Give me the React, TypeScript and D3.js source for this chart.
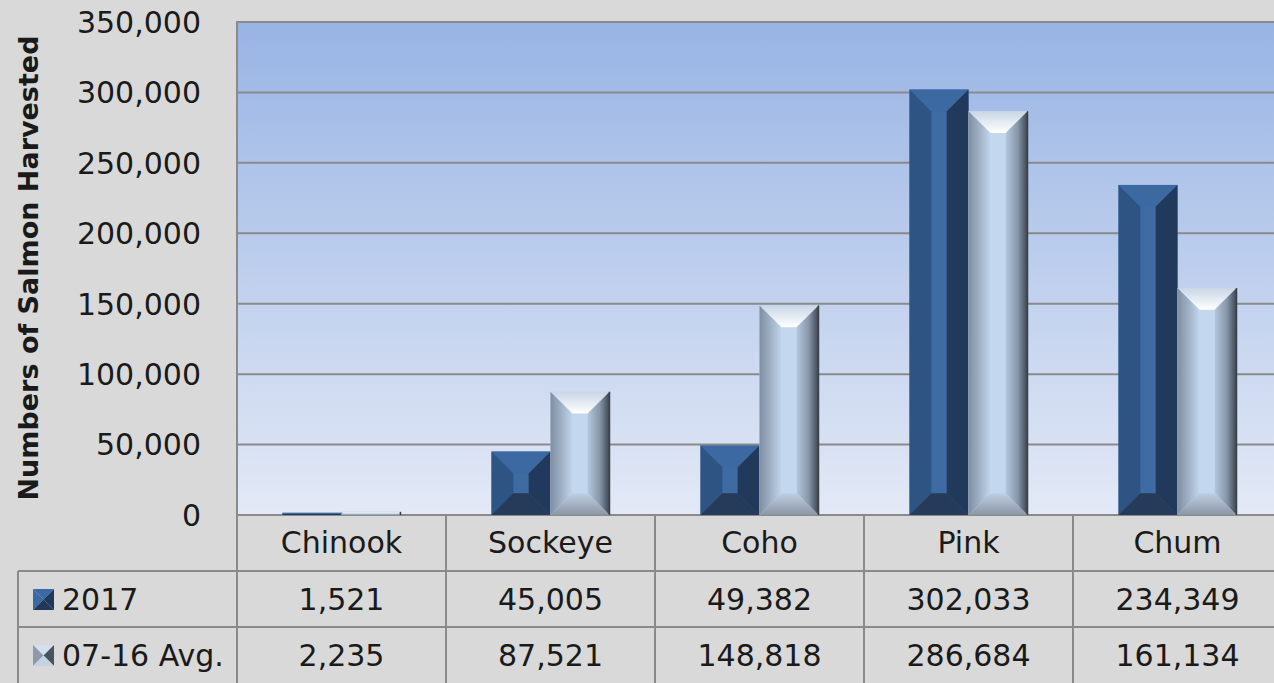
import * as d3 from "d3"

const categories = ["Chinook", "Sockeye", "Coho", "Pink", "Chum"]
const series = ["2017", "07-16 Avg."]
const values2017 = [1521, 45005, 49382, 302033, 234349]
const valuesAvg = [2235, 87521, 148818, 286684, 161134]
const yTicks = [0, 50000, 100000, 150000, 200000, 250000, 300000, 350000]

const W = 1274
const H = 683
const font = "'DejaVu Sans', sans-serif"

function BevelBar({ x, y, w, h, kind }: { x: number; y: number; w: number; h: number; kind: number }) {
  const b = Math.min(22, w * 0.37, h / 2)
  const pts = (p: number[][]) => p.map((d) => d.join(",")).join(" ")
  const top = pts([[x, y], [x + w, y], [x + w - b, y + b], [x + b, y + b]])
  const bottom = pts([[x, y + h], [x + w, y + h], [x + w - b, y + h - b], [x + b, y + h - b]])
  const left = pts([[x, y], [x + b, y + b], [x + b, y + h - b], [x, y + h]])
  const right = pts([[x + w, y], [x + w - b, y + b], [x + w - b, y + h - b], [x + w, y + h]])
  if (kind === 0) {
    return (
      <g>
        <rect x={x} y={y} width={w} height={h} fill="#3e6ba2" />
        <polygon points={top} fill="#3c69a1" />
        <polygon points={left} fill="#2e5484" />
        <polygon points={right} fill="#21395a" />
        <polygon points={bottom} fill="#253b59" />
      </g>
    )
  }
  return (
    <g>
      <rect x={x} y={y} width={w} height={h} fill="#c3d8ef" />
      <polygon points={top} fill="url(#avgTop)" />
      <polygon points={left} fill="url(#avgLeft)" />
      <polygon points={right} fill="url(#avgRight)" />
      <polygon points={bottom} fill="url(#avgBottom)" />
      <line x1={x + w} x2={x + w} y1={y} y2={y + h} stroke="#3a4048" strokeWidth={1.5} />
    </g>
  )
}

function LegendKey({ x, y, s, kind }: { x: number; y: number; s: number; kind: number }) {
  const c = [x + s / 2, y + s / 2]
  const tri = (a: number[], b: number[]) => [a, b, c].map((d) => d.join(",")).join(" ")
  const cols = kind === 0
    ? ["#3b69a5", "#3b69a5", "#20395a", "#20395a"]
    : ["#d2dfee", "#8e9aab", "#4a525e", "#c4d2e3"]
  return (
    <g>
      <polygon points={tri([x, y], [x + s, y])} fill={cols[0]} />
      <polygon points={tri([x, y], [x, y + s])} fill={cols[1]} />
      <polygon points={tri([x + s, y], [x + s, y + s])} fill={cols[2]} />
      <polygon points={tri([x, y + s], [x + s, y + s])} fill={cols[3]} />
    </g>
  )
}

export default function App() {
  const plotLeft = 237
  const plotRight = 1282
  const plotTop = 22
  const plotBottom = 515

  const x0 = d3.scaleBand().domain(categories).range([plotLeft, plotRight])
  const groupW = 118
  const x1 = d3.scaleBand().domain(series).range([0, groupW])
  const y = d3.scaleLinear().domain([0, 350000]).range([plotBottom, plotTop])
  const fmt = d3.format(",")

  const rows = [values2017, valuesAvg]
  const rowTop = [571, 627]
  const rowH = 56

  return (
    <>
      <style>{"body{margin:0}"}</style>
      <svg width={W} height={H} style={{ display: "block", fontFamily: font }}>
        <defs>
          <linearGradient id="plotBg" x1="0" y1="0" x2="0" y2="1">
            <stop offset="0" stopColor="#98b4e4" />
            <stop offset="1" stopColor="#e3e9f6" />
          </linearGradient>
          <linearGradient id="avgTop" x1="0" y1="0" x2="0" y2="1">
            <stop offset="0" stopColor="#c8d6e6" />
            <stop offset="1" stopColor="#ffffff" />
          </linearGradient>
          <linearGradient id="avgBottom" x1="0" y1="0" x2="0" y2="1">
            <stop offset="0" stopColor="#bfcfe2" />
            <stop offset="1" stopColor="#8a96a5" />
          </linearGradient>
          <linearGradient id="avgLeft" x1="0" y1="0" x2="1" y2="0">
            <stop offset="0" stopColor="#7f8ea2" />
            <stop offset="1" stopColor="#c0d4eb" />
          </linearGradient>
          <linearGradient id="avgRight" x1="0" y1="0" x2="1" y2="0">
            <stop offset="0" stopColor="#b3c7de" />
            <stop offset="0.55" stopColor="#8897aa" />
            <stop offset="1" stopColor="#3d4550" />
          </linearGradient>
        </defs>

        <rect width={W} height={H} fill="#d9d9d9" />

        <rect x={plotLeft} y={plotTop} width={plotRight - plotLeft} height={plotBottom - plotTop} fill="url(#plotBg)" />

        {yTicks.map((t) => (
          <g key={t}>
            <line x1={plotLeft} x2={W} y1={y(t)} y2={y(t)} stroke="#8a8a8a" strokeWidth={2} />
            <text x={201} y={y(t)} dy="0.36em" textAnchor="end" fontSize={30} fill="#1a1a1a">
              {fmt(t)}
            </text>
          </g>
        ))}
        <line x1={plotLeft} x2={plotLeft} y1={plotTop - 1} y2={H} stroke="#8a8a8a" strokeWidth={2} />

        <text
          transform="translate(28,268) rotate(-90)"
          textAnchor="middle"
          dy="0.36em"
          fontSize={27}
          fontWeight="bold"
          fill="#1a1a1a"
        >
          Numbers of Salmon Harvested
        </text>

        {categories.map((c, i) => {
          const gx = (x0(c) ?? 0) + (x0.bandwidth() - groupW) / 2
          return (
            <g key={c}>
              {rows.map((vals, k) => (
                <BevelBar
                  key={k}
                  kind={k}
                  x={gx + (x1(series[k]) ?? 0)}
                  y={y(vals[i])}
                  w={x1.bandwidth()}
                  h={plotBottom - y(vals[i])}
                />
              ))}
            </g>
          )
        })}

        {/* data table */}
        {rowTop.map((t) => (
          <line key={t} x1={18} x2={W} y1={t} y2={t} stroke="#8a8a8a" strokeWidth={2} />
        ))}
        <line x1={18} x2={18} y1={rowTop[0]} y2={H} stroke="#8a8a8a" strokeWidth={2} />
        {categories.map((c) => (
          <line key={c} x1={(x0(c) ?? 0) + x0.bandwidth()} x2={(x0(c) ?? 0) + x0.bandwidth()} y1={plotBottom} y2={H} stroke="#8a8a8a" strokeWidth={2} />
        ))}
        {categories.map((c) => (
          <text key={c} x={(x0(c) ?? 0) + x0.bandwidth() / 2} y={plotBottom + rowH / 2 - 1} dy="0.36em" textAnchor="middle" fontSize={30} fill="#1a1a1a">
            {c}
          </text>
        ))}
        {rows.map((vals, k) => (
          <g key={k}>
            <LegendKey x={33} y={rowTop[k] + 18} s={21} kind={k} />
            <text x={62} y={rowTop[k] + rowH / 2} dy="0.36em" fontSize={30} fill="#1a1a1a">
              {series[k]}
            </text>
            {categories.map((c, i) => (
              <text key={c} x={(x0(c) ?? 0) + x0.bandwidth() / 2} y={rowTop[k] + rowH / 2} dy="0.36em" textAnchor="middle" fontSize={30} fill="#1a1a1a">
                {fmt(vals[i])}
              </text>
            ))}
          </g>
        ))}
      </svg>
    </>
  )
}
